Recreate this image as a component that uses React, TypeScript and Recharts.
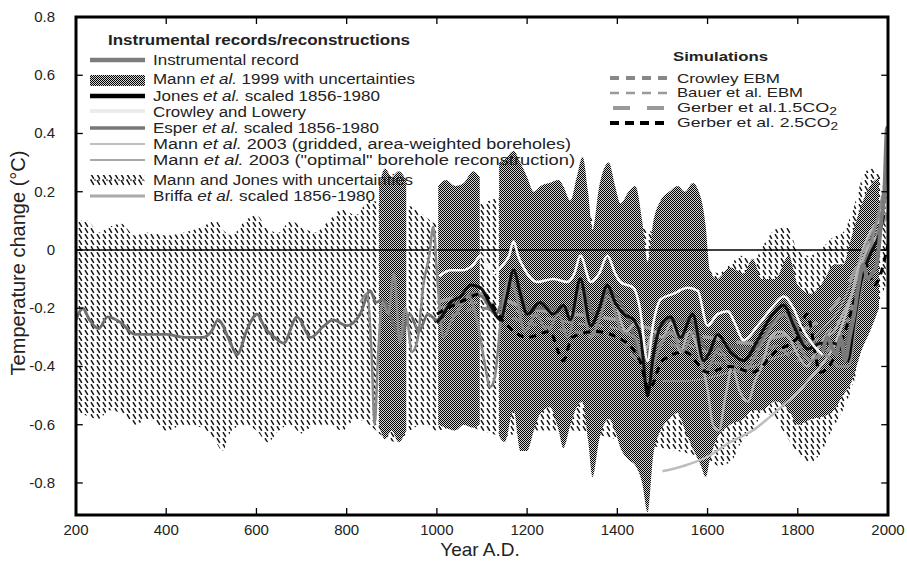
import {
  ComposedChart,
  Line,
  Area,
  XAxis,
  YAxis,
  ReferenceLine,
} from "recharts";

const FONT = "'Liberation Sans', Arial, Helvetica, sans-serif";

const X_TICKS = [200, 400, 600, 800, 1000, 1200, 1400, 1600, 1800, 2000];
const Y_TICKS = [-0.8, -0.6, -0.4, -0.2, 0, 0.2, 0.4, 0.6, 0.8];
const X_DOMAIN = [200, 2000];
const Y_DOMAIN = [-0.91, 0.8];

// Mann and Jones with uncertainties (band + mean)
const mjYears = [200, 225, 250, 275, 300, 330, 360, 400, 440, 480, 510, 525, 545, 575, 600, 625, 650, 675, 700, 730, 760, 790, 820, 850, 880, 910, 940, 970, 1000, 1050, 1100, 1150, 1200, 1300, 1400, 1500, 1560, 1600, 1625, 1650, 1675, 1700, 1725, 1750, 1775, 1800, 1825, 1850, 1875, 1900, 1925, 1950, 1970, 1995];
const mjUpper = [0.1, 0.1, 0.06, 0.08, 0.09, 0.05, 0.06, 0.05, 0.06, 0.08, 0.1, 0.07, 0.05, 0.1, 0.12, 0.07, 0.06, 0.1, 0.08, 0.06, 0.1, 0.14, 0.12, 0.17, 0.16, 0.14, 0.15, 0.12, 0.09, 0.12, 0.16, 0.18, 0.15, 0.12, 0.1, 0.05, 0.02, -0.06, -0.08, -0.05, -0.02, -0.04, 0.02, 0.07, 0.08, 0.0, -0.02, 0.0, 0.04, 0.06, 0.15, 0.27, 0.28, 0.18];
const mjLower = [-0.55, -0.57, -0.58, -0.55, -0.56, -0.6, -0.58, -0.62, -0.6, -0.61, -0.66, -0.69, -0.62, -0.6, -0.62, -0.66, -0.62, -0.6, -0.63, -0.6, -0.6, -0.62, -0.58, -0.6, -0.64, -0.66, -0.62, -0.6, -0.62, -0.6, -0.62, -0.64, -0.62, -0.62, -0.65, -0.68, -0.7, -0.72, -0.74, -0.73, -0.66, -0.62, -0.56, -0.58, -0.64, -0.7, -0.73, -0.7, -0.62, -0.55, -0.45, -0.28, -0.22, -0.12];

const mjMeanYears = [200, 215, 230, 250, 270, 300, 330, 360, 400, 440, 480, 500, 515, 540, 557, 580, 601, 620, 640, 660, 690, 720, 750, 770, 800, 830, 852, 865, 880, 900, 920, 940, 960, 980, 1000, 1020, 1050, 1080, 1100, 1130, 1160, 1180, 1200, 1250, 1300, 1320, 1350, 1380, 1420, 1460, 1480, 1520, 1560, 1600, 1650, 1700, 1750, 1780, 1820, 1860, 1900, 1930, 1960, 1980];
const mjMean = [-0.24, -0.2, -0.24, -0.27, -0.23, -0.25, -0.29, -0.29, -0.29, -0.3, -0.3, -0.28, -0.24, -0.31, -0.36, -0.27, -0.22, -0.27, -0.3, -0.32, -0.23, -0.3, -0.26, -0.24, -0.26, -0.22, -0.14, -0.18, -0.17, -0.24, -0.3, -0.22, -0.28, -0.22, -0.24, -0.2, -0.18, -0.15, -0.16, -0.22, -0.12, -0.12, -0.2, -0.2, -0.2, -0.12, -0.22, -0.14, -0.22, -0.38, -0.3, -0.24, -0.24, -0.34, -0.33, -0.34, -0.24, -0.22, -0.32, -0.32, -0.33, -0.18, 0.02, 0.12];

// Mann et al. 1999 with uncertainties (null = gap)
const m99Years = [872, 885, 900, 915, 932, 960, 1003, 1020, 1040, 1060, 1080, 1095, 1115, 1138, 1150, 1170, 1185, 1200, 1215, 1230, 1250, 1270, 1280, 1296, 1310, 1323, 1335, 1345, 1360, 1381, 1395, 1407, 1425, 1440, 1455, 1467, 1480, 1496, 1515, 1534, 1550, 1567, 1585, 1596, 1605, 1620, 1650, 1680, 1700, 1720, 1750, 1780, 1800, 1830, 1860, 1880, 1900, 1920, 1940, 1960, 1980];
const m99Upper = [0.22, 0.28, 0.25, 0.27, 0.24, null, 0.22, 0.24, 0.22, 0.23, 0.27, 0.25, null, 0.3, 0.31, 0.34, 0.3, 0.25, 0.2, 0.22, 0.23, 0.24, 0.22, 0.17, 0.25, 0.32, 0.2, 0.07, 0.22, 0.3, 0.22, 0.16, 0.2, 0.22, 0.1, -0.04, 0.1, 0.17, 0.2, 0.22, 0.2, 0.23, 0.18, 0.08, -0.07, -0.1, -0.06, -0.08, -0.03, -0.1, -0.1, -0.02, -0.12, -0.15, -0.1, -0.05, -0.05, 0.05, 0.15, 0.22, 0.25];
const m99Lower = [-0.6, -0.65, -0.62, -0.66, -0.62, null, -0.6, -0.61, -0.62, -0.6, -0.61, -0.6, null, -0.64, -0.66, -0.55, -0.69, -0.69, -0.62, -0.56, -0.54, -0.62, -0.68, -0.6, -0.54, -0.52, -0.65, -0.78, -0.65, -0.58, -0.62, -0.68, -0.72, -0.74, -0.8, -0.9, -0.7, -0.62, -0.58, -0.56, -0.62, -0.68, -0.74, -0.78, -0.72, -0.65, -0.6, -0.58, -0.55, -0.55, -0.52, -0.55, -0.6, -0.58, -0.57, -0.55, -0.5, -0.45, -0.35, -0.28, -0.2];

// Jones et al. scaled 1856-1980
const jonesYears = [1000, 1015, 1030, 1052, 1075, 1097, 1119, 1141, 1155, 1170, 1185, 1200, 1229, 1258, 1281, 1296, 1318, 1341, 1360, 1378, 1395, 1414, 1436, 1452, 1467, 1480, 1496, 1518, 1540, 1567, 1591, 1605, 1622, 1651, 1680, 1711, 1740, 1769, 1791, 1822, 1851, 1880, 1900, 1911, 1925, 1940, 1962, 1980, 1991];
const jones = [-0.25, -0.22, -0.18, -0.16, -0.12, -0.13, -0.19, -0.24, -0.16, -0.07, -0.15, -0.22, -0.18, -0.22, -0.19, -0.24, -0.1, -0.26, -0.2, -0.12, -0.18, -0.22, -0.24, -0.3, -0.5, -0.36, -0.26, -0.23, -0.3, -0.22, -0.38, -0.35, -0.29, -0.35, -0.38, -0.31, -0.23, -0.19, -0.26, -0.34, -0.32, -0.32, -0.35, -0.38, -0.25, -0.11, -0.01, 0.05, 0.12];

// Esper et al. scaled 1856-1980
const esperYears = [831, 845, 855, 862, 870, 880, 892, 905, 918, 930, 945, 958, 970, 983, 992, 1002, 1015, 1030, 1050, 1070, 1090, 1105, 1118, 1128, 1142, 1160, 1175, 1195, 1220, 1245, 1270, 1290, 1318, 1340, 1360, 1380, 1410, 1440, 1467, 1490, 1520, 1545, 1570, 1595, 1625, 1650, 1680, 1710, 1740, 1770, 1800, 1830, 1860, 1890, 1912, 1935, 1960, 1990];
const esper = [-0.18, -0.15, -0.35, -0.6, -0.35, -0.18, -0.22, -0.08, -0.32, -0.2, -0.35, -0.3, -0.12, -0.02, 0.08, -0.12, -0.3, -0.25, -0.2, -0.16, -0.25, -0.38, -0.47, -0.44, -0.24, -0.1, -0.15, -0.28, -0.22, -0.28, -0.22, -0.3, -0.14, -0.3, -0.24, -0.16, -0.28, -0.3, -0.45, -0.35, -0.28, -0.35, -0.28, -0.42, -0.34, -0.4, -0.42, -0.35, -0.27, -0.22, -0.32, -0.38, -0.36, -0.4, -0.4, -0.18, 0.0, 0.2];

// Crowley and Lowery
const clYears = [1005, 1030, 1055, 1081, 1097, 1112, 1125, 1147, 1160, 1170, 1180, 1192, 1222, 1258, 1289, 1305, 1318, 1341, 1360, 1378, 1395, 1407, 1436, 1450, 1467, 1480, 1496, 1525, 1556, 1578, 1600, 1622, 1645, 1660, 1680, 1711, 1747, 1769, 1790, 1807, 1836, 1855];
const crowleyLowery = [-0.09, -0.07, -0.07, -0.05, -0.02, -0.05, -0.08, -0.05, -0.02, 0.03, -0.02, -0.06, -0.11, -0.1, -0.11, -0.08, -0.02, -0.11, -0.08, -0.02, -0.08, -0.11, -0.13, -0.2, -0.38, -0.25, -0.17, -0.15, -0.13, -0.14, -0.26, -0.22, -0.21, -0.25, -0.31, -0.26, -0.19, -0.16, -0.2, -0.26, -0.33, -0.36];

// Briffa et al. scaled 1856-1980
const briffaYears = [1400, 1420, 1440, 1460, 1480, 1500, 1520, 1540, 1560, 1580, 1600, 1612, 1625, 1640, 1655, 1670, 1690, 1705, 1720, 1740, 1760, 1780, 1800, 1820, 1840, 1860, 1880, 1900, 1920, 1940, 1960, 1985];
const briffa = [-0.2, -0.28, -0.25, -0.35, -0.28, -0.3, -0.25, -0.35, -0.28, -0.35, -0.48, -0.6, -0.62, -0.5, -0.4, -0.48, -0.52, -0.45, -0.4, -0.3, -0.28, -0.3, -0.36, -0.4, -0.35, -0.3, -0.28, -0.22, -0.15, -0.05, 0.02, 0.05];

// Mann et al. 2003 boreholes
const boreYears = [1500, 1550, 1600, 1650, 1700, 1733, 1770, 1800, 1822, 1850, 1880, 1900, 1920, 1940, 1960, 1980, 1995];
const boreGridded = [-0.76, -0.74, -0.71, -0.66, -0.62, -0.58, -0.53, -0.49, -0.45, -0.4, -0.33, -0.25, -0.15, -0.02, 0.06, 0.1, 0.12];
const optYears = [1500, 1550, 1600, 1650, 1700, 1750, 1800, 1850, 1900, 1940, 1970, 1995];
const boreOptimal = [-0.45, -0.45, -0.44, -0.42, -0.4, -0.37, -0.34, -0.28, -0.18, -0.02, 0.08, 0.15];

// Instrumental record
const instYears = [1856, 1865, 1875, 1885, 1895, 1905, 1915, 1925, 1935, 1945, 1955, 1965, 1975, 1985, 1992, 1998, 2000];
const instrumental = [-0.35, -0.3, -0.33, -0.36, -0.3, -0.38, -0.3, -0.22, -0.12, -0.05, -0.1, -0.08, -0.05, 0.1, 0.2, 0.42, 0.38];

// Simulations
const simYears = [1000, 1100, 1200, 1300, 1400, 1450, 1500, 1600, 1700, 1750, 1800, 1850, 1900, 1950, 2000];
const crowleyEbm = [-0.25, -0.2, -0.25, -0.28, -0.3, -0.38, -0.32, -0.38, -0.4, -0.33, -0.38, -0.36, -0.28, -0.05, 0.15];
const bauerEbm = [-0.2, -0.18, -0.22, -0.25, -0.27, -0.3, -0.3, -0.35, -0.37, -0.35, -0.33, -0.3, -0.22, -0.02, 0.2];
const gerber15 = [-0.18, -0.15, -0.2, -0.22, -0.24, -0.26, -0.28, -0.3, -0.32, -0.3, -0.28, -0.24, -0.15, 0.0, 0.12];
const g25Years = [1000, 1050, 1100, 1150, 1200, 1250, 1280, 1300, 1350, 1400, 1450, 1470, 1500, 1550, 1600, 1650, 1700, 1750, 1800, 1820, 1850, 1900, 1930, 1950, 1970, 2000];
const gerber25 = [-0.22, -0.18, -0.15, -0.25, -0.3, -0.28, -0.38, -0.3, -0.28, -0.3, -0.38, -0.48, -0.38, -0.35, -0.42, -0.4, -0.42, -0.35, -0.3, -0.22, -0.42, -0.3, -0.15, -0.05, -0.12, 0.02];

const rows = (years: number[], vals: number[]) =>
  years.map((year, i) => ({ year, v: vals[i] }));

const bandSegments = (years: number[], lo: (number | null)[], hi: (number | null)[]) => {
  const segs: { year: number; band: number[] }[][] = [];
  let cur: { year: number; band: number[] }[] = [];
  years.forEach((year, i) => {
    if (hi[i] == null || lo[i] == null) {
      if (cur.length) segs.push(cur);
      cur = [];
    } else cur.push({ year, band: [lo[i] as number, hi[i] as number] });
  });
  if (cur.length) segs.push(cur);
  return segs;
};

const mjBand = bandSegments(mjYears, mjLower, mjUpper);
const m99Band = bandSegments(m99Years, m99Lower, m99Upper);

// inward tick marks, as short reference segments
const TICK_X = 15; // years
const TICK_Y = 0.024; // deg C

function XTick({ x, y, payload }: any) {
  return (
    <text x={x} y={y + 20} textAnchor="middle" fontSize={15} fontFamily={FONT} fill="#222">
      {payload.value}
    </text>
  );
}

function YTick({ x, y, payload }: any) {
  return (
    <text x={x - 21} y={y + 5} textAnchor="end" fontSize={15} fontFamily={FONT} fill="#222">
      {payload.value}
    </text>
  );
}

function Legends() {
  const t = { fontFamily: FONT, fontSize: 14, fill: "#222", lengthAdjust: "spacingAndGlyphs" as const };
  const r = { fontFamily: FONT, fontSize: 13, fill: "#222", lengthAdjust: "spacingAndGlyphs" as const };
  const left = 153;
  return (
    <svg width={907} height={562} style={{ position: "absolute", left: 0, top: 0, pointerEvents: "none" }}>
      <defs>
        <pattern id="lgChecker" width={2} height={2} patternUnits="userSpaceOnUse">
          <rect width={2} height={2} fill="#d4d4d4" />
          <rect width={1} height={1} fill="#000" />
          <rect x={1} y={1} width={1} height={1} fill="#000" />
        </pattern>
        <pattern id="lgHatch" width={6} height={6} patternUnits="userSpaceOnUse">
          <path d="M1 0.2 L3.8 4.8" stroke="#111" strokeWidth={1.5} />
        </pattern>
      </defs>
      {/* plot box */}
      <rect x={76} y={17} width={812} height={498} fill="none" stroke="#000" strokeWidth={3} />

      <text x={108} y={45} {...t} fontWeight="bold" textLength={302}>Instrumental records/reconstructions</text>

      <line x1={90} x2={145} y1={60} y2={60} stroke="#7d7d7d" strokeWidth={4.5} />
      <text x={left} y={65} {...t} textLength={146}>Instrumental record</text>

      <rect x={90} y={75} width={55} height={11} fill="url(#lgChecker)" />
      <text x={left} y={84} {...t} textLength={262}>Mann <tspan fontStyle="italic">et al.</tspan> 1999 with uncertainties</text>

      <line x1={90} x2={145} y1={96} y2={96} stroke="#000" strokeWidth={4.5} />
      <text x={left} y={101} {...t} textLength={227}>Jones <tspan fontStyle="italic">et al.</tspan> scaled 1856-1980</text>

      <line x1={90} x2={145} y1={111} y2={111} stroke="#ececec" strokeWidth={4} />
      <text x={left} y={117} {...t} textLength={153}>Crowley and Lowery</text>

      <line x1={90} x2={145} y1={128} y2={128} stroke="#777" strokeWidth={3.5} />
      <text x={left} y={133} {...t} textLength={226}>Esper <tspan fontStyle="italic">et al.</tspan> scaled 1856-1980</text>

      <line x1={90} x2={145} y1={144} y2={144} stroke="#c0c0c0" strokeWidth={2} />
      <text x={left} y={149} {...t} textLength={418}>Mann <tspan fontStyle="italic">et al.</tspan> 2003 (gridded, area-weighted boreholes)</text>

      <line x1={90} x2={145} y1={160} y2={160} stroke="#8a8a8a" strokeWidth={1.5} />
      <text x={left} y={165} {...t} textLength={422}>Mann <tspan fontStyle="italic">et al.</tspan> 2003 ("optimal" borehole reconstruction)</text>

      <rect x={90} y={175} width={55} height={11} fill="url(#lgHatch)" />
      <line x1={90} x2={145} y1={180} y2={180} stroke="#000" strokeWidth={1} strokeDasharray="2 2" />
      <text x={left} y={185} {...t} textLength={260}>Mann and Jones with uncertainties</text>

      <line x1={90} x2={145} y1={196} y2={196} stroke="#aaa" strokeWidth={3} />
      <text x={left} y={201} {...t} textLength={222}>Briffa <tspan fontStyle="italic">et al.</tspan> scaled 1856-1980</text>

      <text x={673} y={61} {...r} fontWeight="bold" textLength={95}>Simulations</text>

      <line x1={610} x2={668} y1={78} y2={78} stroke="#888" strokeWidth={4} strokeDasharray="9 7" />
      <text x={677} y={83} {...r} textLength={103}>Crowley EBM</text>

      <line x1={610} x2={668} y1={93} y2={93} stroke="#999" strokeWidth={2.5} strokeDasharray="9 7" />
      <text x={677} y={97} {...r} textLength={126}>Bauer et al. EBM</text>

      <line x1={613} x2={668} y1={108} y2={108} stroke="#999" strokeWidth={4} strokeDasharray="17 17" />
      <text x={677} y={112} {...r} textLength={160}>Gerber et al.1.5CO<tspan dy={3} fontSize={10}>2</tspan></text>

      <line x1={610} x2={668} y1={123} y2={123} stroke="#000" strokeWidth={4} strokeDasharray="9 6" />
      <text x={677} y={127} {...r} textLength={161}>Gerber et al. 2.5CO<tspan dy={3} fontSize={10}>2</tspan></text>

      <text x={18} y={263} transform="rotate(-90 18 263)" textAnchor="middle" dominantBaseline="central" fontFamily={FONT} fontSize={20} fill="#222">
        Temperature change (°C)
      </text>
      <text x={480} y={556} textAnchor="middle" fontFamily={FONT} fontSize={19} fill="#222">Year A.D.</text>
    </svg>
  );
}

export default function App() {
  const lineCommon = { dot: false, activeDot: false, isAnimationActive: false, type: "monotone" as const };
  const [xMin, xMax] = X_DOMAIN;
  const [yMin, yMax] = Y_DOMAIN;
  return (
    <div style={{ position: "absolute", left: 0, top: 0, width: 907, height: 562, background: "#fff" }}>
      <ComposedChart width={907} height={562} margin={{ top: 17, right: 19, bottom: 0, left: 6 }}>
        <defs>
          <pattern id="checker" width={2} height={2} patternUnits="userSpaceOnUse">
            <rect width={2} height={2} fill="#d4d4d4" />
            <rect width={1} height={1} fill="#000" />
            <rect x={1} y={1} width={1} height={1} fill="#000" />
          </pattern>
          <pattern id="hatch" width={6} height={6} patternUnits="userSpaceOnUse">
            <path d="M1 0.2 L3.8 4.8" stroke="#111" strokeWidth={1.5} />
          </pattern>
        </defs>
        <XAxis
          dataKey="year"
          type="number"
          domain={X_DOMAIN}
          ticks={X_TICKS}
          allowDataOverflow
          height={47}
          axisLine={false}
          tickLine={false}
          tickSize={0}
          tickMargin={0}
          tick={(p: any) => <XTick {...p} />}
        />
        <YAxis
          type="number"
          domain={Y_DOMAIN}
          ticks={Y_TICKS}
          allowDataOverflow
          width={70}
          axisLine={false}
          tickLine={false}
          tickSize={0}
          tickMargin={0}
          tick={(p: any) => <YTick {...p} />}
        />

        {mjBand.map((seg, i) => (
          <Area key={`mj${i}`} data={seg} dataKey="band" type="monotone" fill="url(#hatch)" fillOpacity={1} stroke="none" isAnimationActive={false} />
        ))}
        {m99Band.map((seg, i) => (
          <Area key={`m99${i}`} data={seg} dataKey="band" type="monotone" fill="url(#checker)" fillOpacity={1} stroke="none" isAnimationActive={false} />
        ))}

        <ReferenceLine y={0} stroke="#000" strokeWidth={1.5} />

        <Line {...lineCommon} data={rows(simYears, crowleyEbm)} dataKey="v" stroke="#888" strokeWidth={3} strokeDasharray="9 7" />
        <Line {...lineCommon} data={rows(simYears, bauerEbm)} dataKey="v" stroke="#999" strokeWidth={2} strokeDasharray="9 7" />
        <Line {...lineCommon} data={rows(simYears, gerber15)} dataKey="v" stroke="#a0a0a0" strokeWidth={3.5} strokeDasharray="17 17" />
        <Line {...lineCommon} data={rows(mjMeanYears, mjMean)} dataKey="v" stroke="#6e6e6e" strokeWidth={2.8} />
        <Line {...lineCommon} data={rows(boreYears, boreGridded)} dataKey="v" stroke="#bdbdbd" strokeWidth={2.5} />
        <Line {...lineCommon} data={rows(optYears, boreOptimal)} dataKey="v" stroke="#999" strokeWidth={1.5} />
        <Line {...lineCommon} data={rows(briffaYears, briffa)} dataKey="v" stroke="#b0b0b0" strokeWidth={2.5} />
        <Line {...lineCommon} data={rows(esperYears, esper)} dataKey="v" stroke="#8a8a8a" strokeWidth={2.5} />
        <Line {...lineCommon} data={rows(jonesYears, jones)} dataKey="v" stroke="#111" strokeWidth={3} />
        <Line {...lineCommon} data={rows(g25Years, gerber25)} dataKey="v" stroke="#000" strokeWidth={3} strokeDasharray="7 6" />
        <Line {...lineCommon} data={rows(clYears, crowleyLowery)} dataKey="v" stroke="#f7f7f7" strokeWidth={2.5} />
        <Line {...lineCommon} data={rows(instYears, instrumental)} dataKey="v" stroke="#7a7a7a" strokeWidth={4} />

        {X_TICKS.map((t) => (
          <ReferenceLine key={`xb${t}`} segment={[{ x: t, y: yMin + 0.001 }, { x: t, y: yMin + TICK_Y }]} stroke="#000" strokeWidth={1.3} ifOverflow="visible" />
        ))}
        {X_TICKS.map((t) => (
          <ReferenceLine key={`xt${t}`} segment={[{ x: t, y: yMax - 0.001 }, { x: t, y: yMax - TICK_Y }]} stroke="#000" strokeWidth={1.3} ifOverflow="visible" />
        ))}
        {Y_TICKS.map((t) => (
          <ReferenceLine key={`yl${t}`} segment={[{ x: xMin + 1, y: t }, { x: xMin + TICK_X, y: t }]} stroke="#000" strokeWidth={1.3} ifOverflow="visible" />
        ))}
        {Y_TICKS.map((t) => (
          <ReferenceLine key={`yr${t}`} segment={[{ x: xMax - 1, y: t }, { x: xMax - TICK_X, y: t }]} stroke="#000" strokeWidth={1.3} ifOverflow="visible" />
        ))}
      </ComposedChart>
      <Legends />
    </div>
  );
}
